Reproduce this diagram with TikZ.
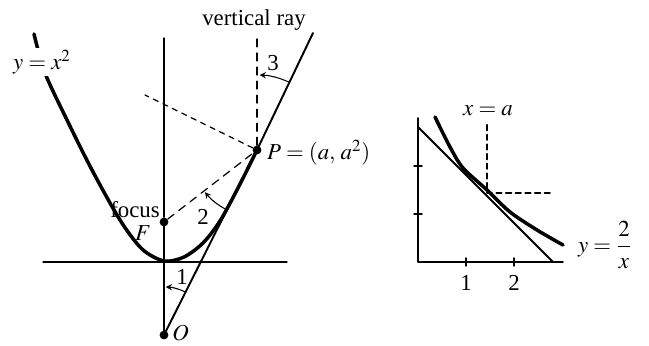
\documentclass[tikz,border=0pt]{standalone}
\usepackage{mathptmx}
\usepackage{fontspec}
\setmainfont{Liberation Serif}
\begin{document}
\begin{tikzpicture}[x=0.02cm, y=0.02cm, line cap=round, line join=round,
  every node/.style={font=\fontsize{13}{15}\selectfont},
  curve/.style={line width=2pt},
  axis/.style={line width=0.7pt},
  dashedray/.style={line width=0.7pt, dash pattern=on 4.5pt off 3.5pt},
  turn/.style={line width=0.6pt, -stealth},
  dot/.style={circle, fill, inner sep=0pt, minimum size=5pt}]
  \useasboundingbox (0,0) rectangle (649,345);
  % parabola: points
  \node[dot] (O) at (164,10) {};
  \node[dot] (F) at (164,123) {};
  \node[dot] (P) at (257,195) {};
  \coordinate (top) at (164,307);
  \coordinate (Tt) at (313,312);
  \coordinate (Rt) at (257,310);
  \coordinate (Nt) at (145,250);
  \coordinate (Hl) at (43,83);
  \coordinate (Hr) at (287,83);
  % axes
  \draw[axis] (Hl) -- (Hr);
  \draw[axis] (F) -- (top);
  \draw[line width=1.4pt] (O.center) -- (F.center);
  % tangent line through O and P
  \draw[line width=1.1pt] (O.center) -- (P.center) -- (Tt);
  % the curve
  \draw[curve] plot[smooth] coordinates {(34,311) (45,272) (67,225) (92,175)
    (120,125) (142,96) (164,84) (184,88) (203,102) (220,124) (238,157) (257,195)};
  % rays
  \draw[dashedray] (F) -- (P);
  \draw[dashedray] (P) -- (Rt);
  \draw[dashedray, dash pattern=on 3pt off 3pt] (P) -- (Nt);
  % angles
  \draw[turn] ([shift={(63:48)}]O.center) arc[start angle=63, end angle=88, radius=0.96cm];
  \draw[turn] ([shift={(242:67)}]P.center) arc[start angle=242, end angle=219, radius=1.34cm];
  \draw[turn] ([shift={(65:75)}]P.center) arc[start angle=65, end angle=88, radius=1.5cm];
  % labels
  \node (ray) at (254,325) {vertical ray};
  \node[fill=white, inner sep=1pt] (eq) at (42,283) {$y = x^2$};
  \node (focus) at (135,135) {focus};
  \node (Fl) at (143,112) {$F$};
  \node[anchor=west, inner sep=0pt] (Ol) at (172,12) {$O$};
  \node[anchor=west, inner sep=1pt] (Pl) at (265,192) {$P = (a,\, a^2)$};
  \node (a1) at (182,68) {1};
  \node (a2) at (203,128) {2};
  \node (a3) at (273,282) {3};
  % y = 2/x
  \coordinate (o) at (418,83);
  \coordinate (xe) at (563,83);
  \coordinate (ye) at (418,227);
  \coordinate (Ls) at (418,218);
  \coordinate (Le) at (553,83);
  \coordinate (Dt) at (487,220);
  \coordinate (Dc) at (487,152);
  \coordinate (De) at (553,152);
  \draw[line width=1pt] (ye) -- (o) -- (xe);
  \foreach \i in {1,2} {
    \draw[line width=0.8pt] (418+48*\i,79) -- (418+48*\i,87);
    \node (t\i) at (418+48*\i,62) {\i};
  }
  \foreach \y in {131,179}
    \draw[line width=0.8pt] (414,\y) -- (422,\y);
  \draw[line width=1.1pt] (Ls) -- (Le);
  \draw[curve] plot[smooth] coordinates {(435,228) (450,198) (463,177) (487,155)
    (510,133) (537,115) (563,100)};
  \draw[line width=1.2pt, dash pattern=on 3pt off 2.5pt] (Dt) -- (Dc) -- (De);
  \node (xa) at (488,234) {$x = a$};
  \node (hyp) at (605,100) {$y = \displaystyle\frac{2}{x}$};
\end{tikzpicture}
\end{document}
